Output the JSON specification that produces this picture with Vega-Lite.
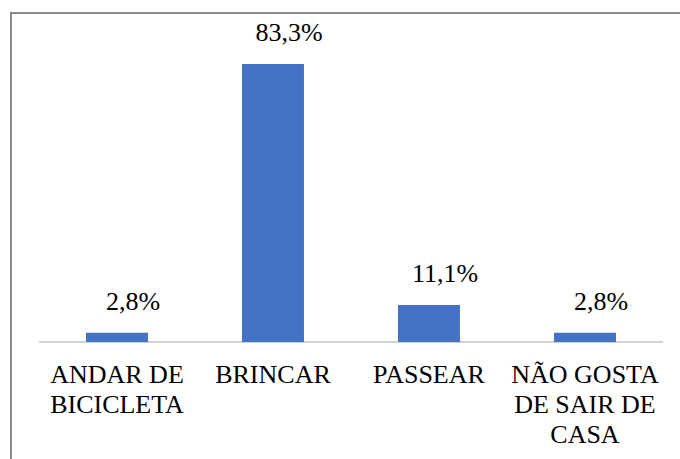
{
  "$schema": "https://vega.github.io/schema/vega-lite/v6.json",
  "width": 700,
  "height": 460,
  "autosize": "none",
  "padding": {"left": 11, "top": 13, "right": 0, "bottom": 0},
  "background": "white",
  "config": {
    "font": "Liberation Serif",
    "view": {"stroke": "#8c8c8c", "strokeWidth": 2},
    "locale": {"number": {"decimal": ",", "thousands": ".", "grouping": [3], "currency": ["", " €"]}}
  },
  "data": {
    "values": [
      {"categoria": "ANDAR DE BICICLETA", "valor": 0.028},
      {"categoria": "BRINCAR", "valor": 0.833},
      {"categoria": "PASSEAR", "valor": 0.111},
      {"categoria": "NÃO GOSTA DE SAIR DE CASA", "valor": 0.028}
    ]
  },
  "encoding": {
    "x": {
      "field": "categoria",
      "type": "nominal",
      "sort": null,
      "scale": {"paddingInner": 0.6026, "paddingOuter": 0.5449, "align": 0.441},
      "axis": {
        "title": null,
        "orient": "bottom",
        "offset": -131,
        "domain": false,
        "ticks": false,
        "labelAngle": 0,
        "labelFont": "Liberation Serif",
        "labelFontSize": 26,
        "labelColor": "#000000",
        "labelLineHeight": 30,
        "labelBaseline": "top",
        "labelPadding": 19,
        "labelAlign": "center",
        "labelLimit": 0,
        "labelOverlap": false,
        "labelExpr": "datum.value == 'ANDAR DE BICICLETA' ? ['ANDAR DE', 'BICICLETA'] : datum.value == 'NÃO GOSTA DE SAIR DE CASA' ? ['NÃO GOSTA', 'DE SAIR DE', 'CASA'] : datum.label"
      }
    }
  },
  "layer": [
    {
      "mark": {"type": "tick", "orient": "horizontal", "size": 156, "thickness": 2, "color": "#bfbfbf"},
      "encoding": {"y": {"datum": 0, "type": "quantitative", "scale": {"domain": [-0.3926, 0.9859], "nice": false, "zero": false}, "axis": null}}
    },
    {
      "mark": {"type": "bar", "color": "#4472C4", "width": 62},
      "encoding": {
        "y": {"field": "valor", "type": "quantitative", "axis": null},
        "y2": {"datum": 0}
      }
    },
    {
      "mark": {"type": "text", "font": "Liberation Serif", "fontSize": 26, "color": "#000000", "baseline": "alphabetic", "dy": -23, "dx": 16},
      "encoding": {
        "y": {"field": "valor", "type": "quantitative"},
        "text": {"field": "valor", "type": "quantitative", "format": ".1%"}
      }
    }
  ]
}
